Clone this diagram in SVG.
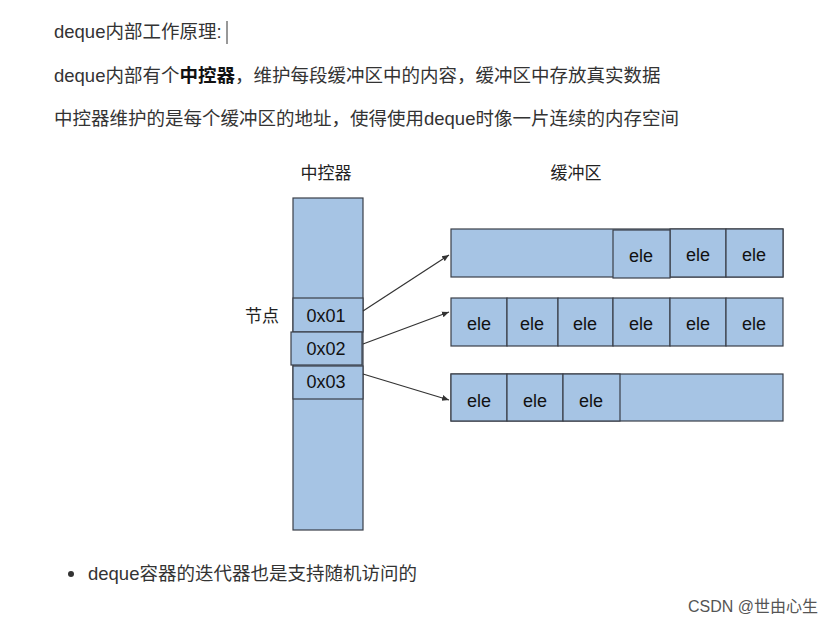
<svg xmlns="http://www.w3.org/2000/svg" width="834" height="626" viewBox="0 0 834 626">
<style>
.t{font-family:"Liberation Sans","Noto Sans CJK SC",sans-serif;fill:#333;font-size:18.5px}
.c{fill:#a6c4e4;stroke:#3a3f48;stroke-width:1.2}
.l{font-family:"Liberation Sans",Arial,sans-serif;font-size:18px;fill:#111;text-anchor:middle}
.cn{font-family:"Noto Sans CJK SC",sans-serif;font-size:17px;fill:#222;text-anchor:middle}
.a{stroke:#333;stroke-width:1.2;fill:none;marker-end:url(#ah)}
</style>
<defs><marker id="ah" markerWidth="8" markerHeight="8" refX="7" refY="4" orient="auto" markerUnits="userSpaceOnUse"><path d="M0,1 L7,4 L0,7z" fill="#333"/></marker></defs>
<rect width="834" height="626" fill="#fff"/>
<text class="t" x="54" y="38">deque内部工作原理:</text>
<line x1="227" y1="21" x2="227" y2="44" stroke="#333"/>
<text class="t" x="54" y="82">deque内部有个<tspan font-weight="bold" fill="#111">中控器</tspan>，维护每段缓冲区中的内容，缓冲区中存放真实数据</text>
<text class="t" x="54" y="125">中控器维护的是每个缓冲区的地址，使得使用deque时像一片连续的内存空间</text>
<text class="cn" x="326" y="179">中控器</text>
<text class="cn" x="576" y="179">缓冲区</text>
<text class="cn" x="262" y="322">节点</text>
<g id="controller">
<rect class="c" x="293" y="198" width="70" height="332"/>
<rect class="c" x="293" y="298" width="70" height="34"/><text class="l" x="326" y="322">0x01</text>
<rect class="c" x="291" y="332" width="71" height="33"/><text class="l" x="326" y="355">0x02</text>
<rect class="c" x="293" y="366" width="70" height="33"/><text class="l" x="326" y="388">0x03</text>
</g>
<g id="buffer1">
<rect class="c" x="451" y="229" width="332" height="48"/>
<rect class="c" x="670" y="229" width="56" height="48"/><text class="l" x="698" y="261">ele</text>
<rect class="c" x="726" y="229" width="57" height="48"/><text class="l" x="754" y="261">ele</text>
<rect class="c" x="613" y="230" width="57" height="48" stroke-width="1.6"/><text class="l" x="641" y="262">ele</text>
</g>
<g id="buffer2">
<rect class="c" x="451" y="298" width="56" height="48"/><text class="l" x="479" y="330">ele</text>
<rect class="c" x="507" y="298" width="51" height="48"/><text class="l" x="532" y="330">ele</text>
<rect class="c" x="558" y="298" width="55" height="48"/><text class="l" x="585" y="330">ele</text>
<rect class="c" x="613" y="298" width="57" height="48"/><text class="l" x="641" y="330">ele</text>
<rect class="c" x="670" y="298" width="56" height="48"/><text class="l" x="698" y="330">ele</text>
<rect class="c" x="726" y="298" width="57" height="48"/><text class="l" x="754" y="330">ele</text>
</g>
<g id="buffer3">
<rect class="c" x="451" y="374" width="332" height="47"/>
<rect class="c" x="451" y="374" width="56" height="47"/><text class="l" x="479" y="407">ele</text>
<rect class="c" x="507" y="374" width="56" height="47"/><text class="l" x="535" y="407">ele</text>
<rect class="c" x="563" y="374" width="57" height="47"/><text class="l" x="591" y="407">ele</text>
</g>
<g id="connectors">
<line class="a" x1="363" y1="311" x2="449" y2="255"/>
<line class="a" x1="363" y1="344" x2="449" y2="312"/>
<line class="a" x1="363" y1="374" x2="449" y2="400"/>
</g>
<circle cx="71" cy="574" r="3" fill="#333"/>
<text class="t" x="88" y="580">deque容器的迭代器也是支持随机访问的</text>
<text x="818" y="612" text-anchor="end" font-family="Liberation Sans,Noto Sans CJK SC,sans-serif" font-size="16" fill="#555">CSDN @世由心生</text>
</svg>
